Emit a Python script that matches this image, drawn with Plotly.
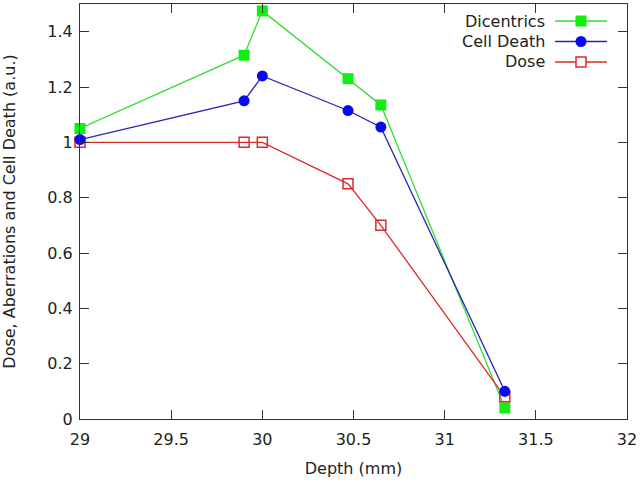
import plotly.graph_objects as go

depth = [29.0, 29.9, 30.0, 30.47, 30.65, 31.33]
dicentrics = [1.05, 1.315, 1.475, 1.23, 1.135, 0.04]
cell_death = [1.01, 1.15, 1.24, 1.115, 1.055, 0.10]
dose = [1.0, 1.0, 1.0, 0.85, 0.70, 0.08]

x_ticks = [29, 29.5, 30, 30.5, 31, 31.5, 32]
x_ticktext = ["29", "29.5", "30", "30.5", "31", "31.5", "32"]
y_ticks = [0, 0.2, 0.4, 0.6, 0.8, 1.0, 1.2, 1.4]
y_ticktext = ["0", "0.2", "0.4", "0.6", "0.8", "1", "1.2", "1.4"]

series_names = ["Dicentrics", "Cell Death", "Dose"]

GREEN_L, GREEN_M = "#33dd33", "#11ee11"
BLUE_L, BLUE_M = "#2424bb", "#0a0aee"
RED_L, RED_M = "#dd2a2a", "#dd2a2a"

FONT = "DejaVu Sans"
FS = 16

fig = go.Figure()
fig.add_trace(go.Scatter(x=depth, y=dicentrics, mode="lines+markers", name=series_names[0],
                         line=dict(color=GREEN_L, width=1.3),
                         marker=dict(symbol="square", size=11, color=GREEN_M, line=dict(width=0)),
                         showlegend=False, cliponaxis=False))
fig.add_trace(go.Scatter(x=depth, y=dose, mode="lines+markers", name=series_names[2],
                         line=dict(color=RED_L, width=1.3),
                         marker=dict(symbol="square-open", size=10, color=RED_M, line=dict(width=1.5)),
                         showlegend=False, cliponaxis=False))
fig.add_trace(go.Scatter(x=depth, y=cell_death, mode="lines+markers", name=series_names[1],
                         line=dict(color=BLUE_L, width=1.3),
                         marker=dict(symbol="circle", size=11, color=BLUE_M, line=dict(width=0)),
                         showlegend=False, cliponaxis=False))

# custom gnuplot-style legend (text right, sample on the right)
W, H = 641, 483
L, R, T, B = 80, 14, 4, 64
pw, ph = W - L - R, H - T - B

def px(xp):
    return (xp - L) / pw

def py(yp):
    return 1 - (yp - T) / ph

leg_rows = [(series_names[0], GREEN_L, GREEN_M, "sq"),
            (series_names[1], BLUE_L, BLUE_M, "ci"),
            (series_names[2], RED_L, RED_M, "osq")]
shapes = []
annotations = []
for i, (name, lc, mc, kind) in enumerate(leg_rows):
    yy = 21 + i * 20.5
    annotations.append(dict(x=px(547), y=py(yy), xref="paper", yref="paper", text=name,
                            showarrow=False, xanchor="right", yanchor="middle",
                            font=dict(family=FONT, size=FS, color="#222222")))
    shapes.append(dict(type="line", xref="paper", yref="paper", x0=px(555), x1=px(607),
                       y0=py(yy), y1=py(yy), line=dict(color=lc, width=1.3)))
    cx = 581
    if kind == "sq":
        shapes.append(dict(type="rect", xref="paper", yref="paper", x0=px(cx - 5.5), x1=px(cx + 5.5),
                           y0=py(yy + 5.5), y1=py(yy - 5.5), fillcolor=mc, line=dict(width=0)))
    elif kind == "ci":
        shapes.append(dict(type="circle", xref="paper", yref="paper", x0=px(cx - 5.5), x1=px(cx + 5.5),
                           y0=py(yy + 5.5), y1=py(yy - 5.5), fillcolor=mc, line=dict(width=0)))
    else:
        shapes.append(dict(type="rect", xref="paper", yref="paper", x0=px(cx - 5), x1=px(cx + 5),
                           y0=py(yy + 5), y1=py(yy - 5), fillcolor="white", line=dict(color=mc, width=1.5)))

axis_common = dict(showline=True, linecolor="#333333", linewidth=1.2, mirror="allticks",
                   ticks="inside", ticklen=9, tickwidth=1, tickcolor="#333333",
                   showgrid=False, zeroline=False, automargin=False,
                   tickfont=dict(family=FONT, size=FS, color="#222222"))

fig.update_layout(
    width=W, height=H,
    margin=dict(l=L, r=R, t=T, b=B),
    paper_bgcolor="white", plot_bgcolor="white",
    xaxis=dict(range=[29, 32], tickvals=x_ticks, ticktext=x_ticktext, ticklabelstandoff=6,
               title=dict(text="Depth (mm)", font=dict(family=FONT, size=FS, color="#222222"), standoff=14),
               **axis_common),
    yaxis=dict(range=[0, 1.5], tickvals=y_ticks, ticktext=y_ticktext, ticklabelstandoff=3,
               title=dict(text="Dose, Aberrations and Cell Death (a.u.)",
                          font=dict(family=FONT, size=FS, color="#222222"), standoff=29),
               **axis_common),
    shapes=shapes, annotations=annotations,
)

fig.write_html("out.html", config={"displayModeBar": False},
               post_script="document.body.style.margin='0';document.body.style.padding='0';document.body.style.overflow='hidden';")
